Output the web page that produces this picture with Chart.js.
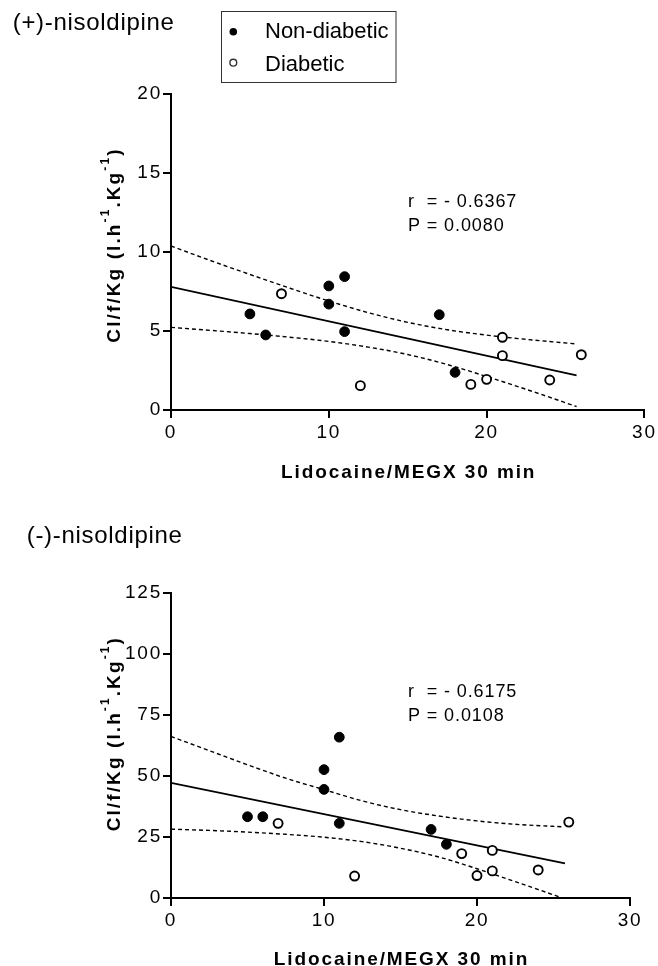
<!DOCTYPE html>
<html>
<head>
<meta charset="utf-8">
<script src="https://cdn.jsdelivr.net/npm/chart.js@4.4.0/dist/chart.umd.min.js"></script>
<style>
  html, body { margin: 0; padding: 0; background: #fff; }
  #wrap { position: relative; width: 658px; height: 966px; overflow: hidden; }
  canvas { position: absolute; left: 0; }
  #top { top: 0; }
  #bottom { top: 490px; }
</style>
</head>
<body>
<div id="wrap">
  <canvas id="top" width="658" height="490"></canvas>
  <canvas id="bottom" width="658" height="476"></canvas>
</div>
<script>
// ================= DATA =================
const xTickVals = [0, 10, 20, 30];
const plusYTickVals = [0, 5, 10, 15, 20];
const minusYTickVals = [0, 25, 50, 75, 100, 125];

// lidocaine/MEGX ratio, same patients in both panels
const nonX = [5, 6, 10, 10, 11, 11, 17, 18];
const diaX = [7, 12, 19, 20, 21, 21, 24, 26];

// ---- (+)-nisoldipine ----
const plusNonY = [6.08, 4.75, 7.85, 6.7, 8.44, 4.96, 6.03, 2.38];
const plusDiaY = [7.36, 1.54, 1.62, 1.94, 4.6, 3.44, 1.9, 3.5];
const plusFitX = [0, 25.7];
const plusFitY = [7.8, 2.19];
const plusBandX = [0, 2.5, 5, 7.5, 10, 12.5, 15, 17.5, 20, 22.5, 25.7];
const plusUpper = [10.38, 9.46, 8.58, 7.72, 6.9, 6.16, 5.55, 5.08, 4.74, 4.47, 4.18];
const plusLower = [5.23, 5.04, 4.84, 4.61, 4.34, 3.98, 3.51, 2.88, 2.12, 1.31, 0.22];

// ---- (-)-nisoldipine ----
const minusNonY = [33.3, 33.3, 52.6, 44.5, 65.9, 30.6, 28.1, 22.0];
const minusDiaY = [30.6, 9.0, 18.2, 9.2, 19.5, 11.1, 11.5, 31.1];
const minusFitX = [0, 25.75];
const minusFitY = [47.2, 14.2];
const minusBandX = [0, 2.5, 5, 7.5, 10, 12.5, 15, 17.5, 20, 22.5, 25.6];
const minusUpper = [66.2, 60.4, 54.6, 49.1, 44.4, 39.8, 36.2, 33.6, 31.6, 30.2, 29.2];
const minusLower = [28.2, 27.7, 27.0, 26.1, 24.9, 23.1, 20.4, 16.8, 12.0, 6.7, 0];

// ================= HELPERS =================
const FONT = '"Liberation Sans", Arial, Helvetica, sans-serif';
const pts = (xs, ys) => xs.map((x, i) => ({ x, y: ys[i] }));

function drawYTitle(ctx, cx, cy) {
  const parts = [
    { t: "Cl/f/Kg (l.h", sup: false },
    { t: "-1", sup: true },
    { t: ".Kg", sup: false },
    { t: "-1", sup: true },
    { t: ")", sup: false }
  ];
  const main = "bold 19px " + FONT;
  const small = "bold 12px " + FONT;
  ctx.save();
  ctx.letterSpacing = "2.1px";
  let total = 0;
  parts.forEach(p => {
    ctx.font = p.sup ? small : main;
    p.w = ctx.measureText(p.t).width;
    total += p.w;
  });
  ctx.translate(cx, cy);
  ctx.rotate(-Math.PI / 2);
  ctx.fillStyle = "#000";
  ctx.textBaseline = "alphabetic";
  ctx.textAlign = "left";
  let x = -total / 2;
  parts.forEach(p => {
    ctx.font = p.sup ? small : main;
    ctx.fillText(p.t, x, p.sup ? -11 : 0);
    x += p.w;
  });
  ctx.restore();
}

function text(ctx, str, x, y, font, spacing, align) {
  ctx.save();
  ctx.font = font;
  ctx.letterSpacing = spacing || "0px";
  ctx.fillStyle = "#000";
  ctx.textAlign = align || "left";
  ctx.textBaseline = "alphabetic";
  ctx.fillText(str, x, y);
  ctx.restore();
}

// ================= PANEL =================
function makePanel(id, p) {
  const annot = {
    id: "annot" + id,
    beforeDraw(chart) {
      chart.ctx.letterSpacing = "1.8px";
    },
    afterDraw(chart) {
      const ctx = chart.ctx;
      ctx.letterSpacing = "0px";
      const a = chart.chartArea;

      text(ctx, p.title, p.titleX, p.titleY, "24px " + FONT, "0.7px");
      text(ctx, p.stats[0], 408, 207.3, "18px " + FONT, "0.9px");
      text(ctx, p.stats[1], 408, 231, "18px " + FONT, "0.9px");

      drawYTitle(ctx, 120, p.yTitleY);
      text(ctx, "Lidocaine/MEGX 30 min", (a.left + a.right) / 2 + 1, p.xTitleY,
        "bold 19px " + FONT, "1.9px", "center");

      if (p.legend) {
        ctx.save();
        ctx.strokeStyle = "#333";
        ctx.lineWidth = 1;
        ctx.strokeRect(221.5, 11.5, 174.5, 71);
        ctx.fillStyle = "#000";
        ctx.beginPath();
        ctx.arc(233.3, 31.7, 3.8, 0, Math.PI * 2);
        ctx.fill();
        ctx.beginPath();
        ctx.lineWidth = 1.4;
        ctx.arc(233.3, 62.7, 3.4, 0, Math.PI * 2);
        ctx.stroke();
        ctx.restore();
        text(ctx, "Non-diabetic", 265, 38.3, "22px " + FONT);
        text(ctx, "Diabetic", 265, 70.7, "22px " + FONT);
      }
    }
  };

  const axisCommon = {
    type: "linear",
    grid: { drawOnChartArea: false, drawTicks: true, tickLength: 8, lineWidth: 2, color: "#000" },
    border: { display: true, color: "#000", width: 2 }
  };

  return new Chart(document.getElementById(id), {
    type: "scatter",
    data: {
      datasets: [
        {
          data: pts(nonX, p.nonY),
          pointRadius: 4.9, pointBackgroundColor: "#000", pointBorderColor: "#000", pointBorderWidth: 1
        },
        {
          data: pts(diaX, p.diaY),
          pointRadius: 4.5, pointBackgroundColor: "#fff", pointBorderColor: "#000", pointBorderWidth: 1.9
        },
        {
          data: pts(p.fitX, p.fitY), showLine: true, pointRadius: 0,
          borderColor: "#000", borderWidth: 1.8
        },
        {
          data: pts(p.bandX, p.upper), showLine: true, pointRadius: 0,
          borderColor: "#000", borderWidth: 1.4, borderDash: [4, 3], cubicInterpolationMode: "monotone"
        },
        {
          data: pts(p.bandX, p.lower), showLine: true, pointRadius: 0,
          borderColor: "#000", borderWidth: 1.4, borderDash: [4, 3], cubicInterpolationMode: "monotone"
        }
      ]
    },
    options: {
      responsive: false,
      animation: false,
      events: [],
      layout: { padding: { left: 0, top: p.plotTop, right: 658 - p.plotRight, bottom: 0 } },
      plugins: { legend: { display: false }, tooltip: { enabled: false } },
      scales: {
        x: {
          ...axisCommon,
          min: 0, max: 30,
          afterBuildTicks: s => { s.ticks = xTickVals.map(v => ({ value: v })); },
          afterFit: s => { s.height = p.canvasH - p.plotBottom; },
          ticks: { color: "#000", font: { family: FONT, size: 19 }, padding: 3, maxRotation: 0 }
        },
        y: {
          ...axisCommon,
          min: 0, max: p.yMax,
          afterBuildTicks: s => { s.ticks = p.yTicks.map(v => ({ value: v })); },
          afterFit: s => { s.width = 171; },
          ticks: { color: "#000", font: { family: FONT, size: 19 }, padding: 1 }
        }
      }
    },
    plugins: [annot]
  });
}

// ================= INIT =================
makePanel("top", {
  canvasH: 490, plotTop: 94, plotBottom: 410, plotRight: 645,
  yMax: 20, yTicks: plusYTickVals,
  nonY: plusNonY, diaY: plusDiaY,
  fitX: plusFitX, fitY: plusFitY,
  bandX: plusBandX, upper: plusUpper, lower: plusLower,
  title: "(+)-nisoldipine", titleX: 12.7, titleY: 30,
  stats: ["r  = - 0.6367", "P = 0.0080"],
  yTitleY: 245, xTitleY: 478.4, legend: true
});

makePanel("bottom", {
  canvasH: 476, plotTop: 103, plotBottom: 408, plotRight: 630,
  yMax: 125, yTicks: minusYTickVals,
  nonY: minusNonY, diaY: minusDiaY,
  fitX: minusFitX, fitY: minusFitY,
  bandX: minusBandX, upper: minusUpper, lower: minusLower,
  title: "(-)-nisoldipine", titleX: 26.7, titleY: 53.3,
  stats: ["r  = - 0.6175", "P = 0.0108"],
  yTitleY: 243.7, xTitleY: 475, legend: false
});
</script>
</body>
</html>
